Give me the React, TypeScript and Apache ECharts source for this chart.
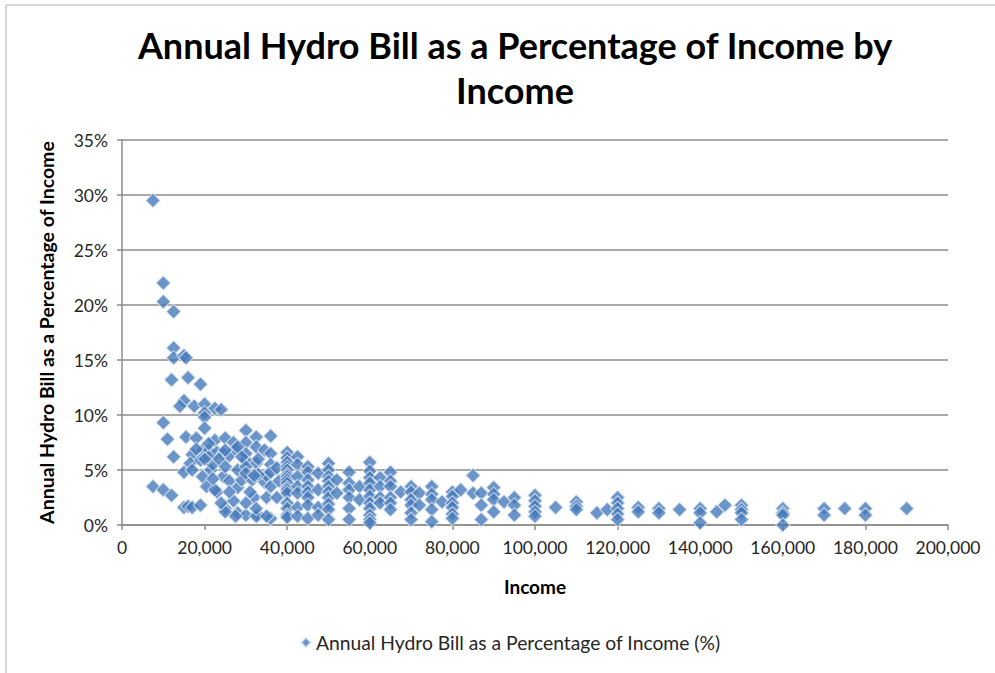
import React, { useEffect, useRef } from "react";
import * as echarts from "echarts";

const titleLines = ["Annual Hydro Bill as a Percentage of Income by", "Income"];
const seriesName = "Annual Hydro Bill as a Percentage of Income (%)";
const yAxisTitle = "Annual Hydro Bill as a Percentage of Income";
const xAxisTitle = "Income";

// [income, % of income]
const lowIncomePoints: [number, number][] = [
  [7500, 29.5], [10000, 22.0], [10000, 20.3], [12500, 19.4], [12500, 16.1], [12500, 15.2],
  [15000, 15.4], [15500, 15.2], [12000, 13.2], [16000, 13.4], [19000, 12.8], [15000, 11.3],
  [14000, 10.8], [17500, 10.8], [20000, 11.0], [20000, 10.2], [22500, 10.6], [24000, 10.5],
  [20000, 9.8], [20000, 8.8], [10000, 9.3], [11000, 7.8], [12500, 6.2], [7500, 3.5],
  [10000, 3.2], [12000, 2.7], [15500, 8.0], [18000, 7.9], [17000, 6.4], [19500, 6.8],
  [16500, 5.6], [15000, 4.8], [17000, 5.0], [19000, 5.9], [19500, 4.4], [20500, 3.5],
  [21500, 5.0], [22000, 5.5], [23000, 3.0], [22500, 3.2], [15000, 1.6], [16000, 1.7],
  [17000, 1.6], [19000, 1.8], [25000, 1.5], [24500, 4.4], [22500, 7.7], [25000, 7.9],
  [27000, 7.5], [30000, 8.6], [32500, 8.0], [36000, 8.1], [28000, 1.1], [30000, 0.9],
  [33000, 0.9], [36000, 0.6], [21000, 6.8], [23000, 6.6], [24500, 6.5], [21000, 6.2],
  [23500, 6.0], [26000, 6.3], [25000, 5.3], [26000, 4.0], [28000, 3.4], [30000, 7.5],
  [32500, 7.1], [34500, 6.8], [36000, 6.5], [30000, 5.9], [32500, 5.6], [36000, 5.5],
  [29000, 4.1], [31500, 4.1], [34500, 3.9], [32000, 2.5], [35000, 2.5], [30000, 2.0],
  [25000, 1.2], [27500, 0.8], [32500, 0.8], [35000, 0.8], [27500, 6.9], [28000, 5.0],
  [30000, 5.3], [30000, 6.5], [33000, 6.0], [35000, 4.5], [36000, 3.5], [36000, 4.8],
  [38000, 4.0], [37500, 5.2], [33000, 4.6], [31000, 3.0], [27000, 2.2], [32500, 1.5],
  [24000, 2.0], [26000, 3.0], [20000, 6.0], [21000, 7.4], [18000, 6.9], [22000, 4.2],
  [25000, 6.8], [28000, 7.1], [29000, 6.2], [30000, 4.7], [32000, 4.5], [37500, 2.5],
];

const midIncomePoints: [number, number][] = [
  [40000, 6.6], [40000, 6.1], [40000, 5.7], [40000, 5.3], [40000, 5.0], [40000, 4.6],
  [40000, 4.4], [40000, 4.1], [40000, 3.8], [40000, 3.4], [40000, 3.2], [40000, 2.9],
  [40000, 2.0], [40000, 1.5], [40000, 0.9], [40000, 0.7],
  [42500, 6.2], [42500, 5.5], [42500, 4.4], [42500, 3.5], [42500, 2.9], [42500, 1.6], [42500, 0.8],
  [45000, 5.3], [45000, 4.8], [45000, 4.1], [45000, 3.5], [45000, 3.0], [45000, 2.5], [45000, 1.8], [45000, 0.6],
  [47500, 4.7], [47500, 3.2], [47500, 1.6], [47500, 0.9],
  [50000, 5.6], [50000, 5.0], [50000, 4.4], [50000, 4.0], [50000, 3.5], [50000, 3.0],
  [50000, 2.5], [50000, 1.9], [50000, 1.4], [50000, 0.5],
  [52000, 4.1], [52000, 2.9],
  [55000, 4.8], [55000, 3.8], [55000, 3.2], [55000, 2.5], [55000, 1.5], [55000, 0.5],
  [57500, 3.5], [57500, 2.3],
  [60000, 5.7], [60000, 4.9], [60000, 4.3], [60000, 3.8], [60000, 3.2], [60000, 2.6],
  [60000, 2.0], [60000, 1.5], [60000, 0.9], [60000, 0.5], [60000, 0.2],
  [62500, 4.3], [62500, 3.5], [62500, 2.5], [62500, 2.0],
  [65000, 4.8], [65000, 4.0], [65000, 3.5], [65000, 2.5], [65000, 2.0], [65000, 1.4],
  [67500, 3.0],
  [70000, 3.5], [70000, 3.0], [70000, 2.3], [70000, 1.8], [70000, 1.1], [70000, 0.5],
  [72000, 2.9], [72000, 1.8],
  [75000, 3.5], [75000, 2.8], [75000, 2.3], [75000, 1.4], [75000, 0.3],
  [77500, 2.1],
  [80000, 3.0], [80000, 2.6], [80000, 2.0], [80000, 1.6], [80000, 1.0], [80000, 0.6],
  [82000, 3.2], [85000, 4.5], [85000, 2.9],
  [87000, 2.9], [87000, 1.8], [87000, 0.5],
  [90000, 3.4], [90000, 2.8], [90000, 2.3], [90000, 1.2],
  [92500, 2.1], [95000, 2.5], [95000, 1.8], [95000, 0.9],
];

const highIncomePoints: [number, number][] = [
  [100000, 2.7], [100000, 2.2], [100000, 1.7], [100000, 1.2], [100000, 0.8],
  [105000, 1.6], [110000, 2.1], [110000, 1.7], [110000, 1.4], [115000, 1.1], [117500, 1.4],
  [120000, 2.5], [120000, 2.0], [120000, 1.5], [120000, 1.0], [120000, 0.5],
  [125000, 1.6], [125000, 1.2], [130000, 1.5], [130000, 1.1], [135000, 1.4],
  [140000, 1.5], [140000, 1.1], [140000, 0.2], [144000, 1.2], [146000, 1.8],
  [150000, 1.8], [150000, 1.4], [150000, 1.1], [150000, 0.5],
  [160000, 1.5], [160000, 1.1], [160000, 0.9], [160000, 0.0],
  [170000, 1.5], [170000, 0.9], [175000, 1.5], [180000, 1.5], [180000, 0.9], [190000, 1.5],
];

const FONT = "Lato, 'Open Sans', sans-serif";

export default function App() {
  const ref = useRef<HTMLDivElement>(null);
  useEffect(() => {
    if (!ref.current) return;
    const chart = echarts.init(ref.current, undefined, { renderer: "svg" });
    const data = [...lowIncomePoints, ...midIncomePoints, ...highIncomePoints];
    chart.setOption({
      animation: false,
      backgroundColor: "#ffffff",
      textStyle: { fontFamily: FONT },
      title: {
        text: titleLines.join("\n"),
        left: 510,
        top: 17,
        textAlign: "center",
        textStyle: { fontFamily: FONT, fontSize: 36, fontWeight: "bold", color: "#000", lineHeight: 45 },
      },
      graphic: [
        { type: "line", shape: { x1: 6, y1: 5, x2: 995, y2: 5 }, style: { stroke: "#c8c8c8", lineWidth: 1.5 } },
        { type: "line", shape: { x1: 6, y1: 5, x2: 6, y2: 673 }, style: { stroke: "#c8c8c8", lineWidth: 1.5 } },
      ],
      grid: { left: 122, right: 47, top: 140, bottom: 148, containLabel: false },
      legend: {
        data: [{ name: seriesName, icon: "diamond" }],
        bottom: 16,
        left: 295,
        itemWidth: 10,
        itemHeight: 10,
        itemGap: 5,
        textStyle: { fontFamily: FONT, fontSize: 19.3, color: "#262626" },
      },
      xAxis: {
        type: "value",
        min: 0,
        max: 200000,
        interval: 20000,
        name: xAxisTitle,
        nameLocation: "middle",
        nameGap: 52,
        nameTextStyle: { fontFamily: FONT, fontSize: 19, fontWeight: "bold", color: "#000" },
        axisLine: { show: true, lineStyle: { color: "#8c8c8c", width: 1.5 } },
        axisTick: { show: true, inside: false, length: 5, lineStyle: { color: "#8c8c8c", width: 1.5 } },
        axisLabel: {
          fontFamily: FONT, fontSize: 17.5, color: "#262626", margin: 13,
          formatter: (v: number) => v.toLocaleString("en-US"),
        },
        splitLine: { show: false },
      },
      yAxis: {
        type: "value",
        min: 0,
        max: 35,
        interval: 5,
        name: yAxisTitle,
        nameLocation: "middle",
        nameGap: 66,
        nameRotate: 90,
        nameTextStyle: { fontFamily: FONT, fontSize: 19.5, fontWeight: "bold", color: "#000" },
        axisLine: { show: true, lineStyle: { color: "#8c8c8c", width: 1.5 } },
        axisTick: { show: true, inside: false, length: 5, lineStyle: { color: "#8c8c8c", width: 1.5 } },
        axisLabel: { fontFamily: FONT, fontSize: 17.5, color: "#262626", margin: 14, formatter: "{value}%" },
        splitLine: { show: true, lineStyle: { color: "#8c8c8c", width: 1.5 } },
      },
      series: [
        {
          name: seriesName,
          type: "scatter",
          symbol: "diamond",
          symbolSize: 14.5,
          data,
          itemStyle: { color: "#4679ba", borderColor: "rgba(225,233,245,0.95)", borderWidth: 1.1 },
        },
      ],
    });
    return () => chart.dispose();
  }, []);
  return (
    <div
      ref={ref}
      style={{ position: "fixed", left: 0, top: 0, width: 995, height: 673 }}
    />
  );
}
